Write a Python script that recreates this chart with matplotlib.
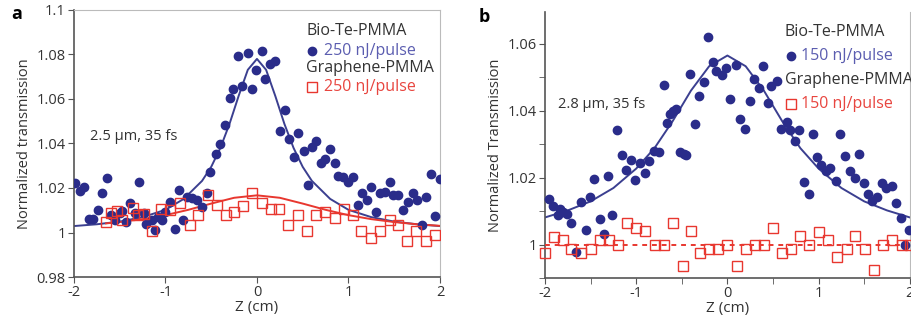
import numpy as np
import matplotlib.pyplot as plt

# ---- panel a data ----
a_bio_z = [-1.99, -1.93, -1.89, -1.84, -1.79, -1.74, -1.69, -1.64, -1.60, -1.55,
           -1.50, -1.47, -1.43, -1.39, -1.33, -1.29, -1.24, -1.21, -1.15, -1.11,
           -1.08, -1.04, -1.00, -0.95, -0.90, -0.85, -0.81, -0.76, -0.71, -0.66,
           -0.60, -0.55, -0.51, -0.45, -0.40, -0.35, -0.30, -0.26, -0.21, -0.16,
           -0.10, -0.05, -0.01, 0.05, 0.09, 0.14, 0.20, 0.25, 0.31, 0.35,
           0.40, 0.45, 0.51, 0.56, 0.60, 0.65, 0.70, 0.74, 0.80, 0.85,
           0.89, 0.94, 1.00, 1.05, 1.10, 1.15, 1.20, 1.25, 1.30, 1.34,
           1.40, 1.45, 1.49, 1.54, 1.60, 1.65, 1.71, 1.75, 1.80, 1.85,
           1.90, 1.95, 2.00]
a_bio_t = [1.0224, 1.0188, 1.0206, 1.0060, 1.0060, 1.0100, 1.0176, 1.0244, 1.0078, 1.0056,
           1.0086, 1.0098, 1.0048, 1.0134, 1.0086, 1.0229, 1.0086, 1.0040, 1.0056, 1.0010,
           1.0070, 1.0056, 1.0093, 1.0138, 1.0018, 1.0190, 1.0056, 1.0160, 1.0153, 1.0146,
           1.0116, 1.0176, 1.0274, 1.0353, 1.0398, 1.0484, 1.0605, 1.0645, 1.0795, 1.0660,
           1.0808, 1.0645, 1.0732, 1.0815, 1.0690, 1.0758, 1.0770, 1.0454, 1.0552, 1.0420,
           1.0338, 1.0447, 1.0367, 1.0214, 1.0382, 1.0409, 1.0311, 1.0329, 1.0374, 1.0314,
           1.0254, 1.0248, 1.0229, 1.0251, 1.0123, 1.0176, 1.0146, 1.0206, 1.0093, 1.0176,
           1.0183, 1.0229, 1.0168, 1.0168, 1.0100, 1.0138, 1.0179, 1.0146, 1.0033, 1.0160,
           1.0263, 1.0074, 1.0241]

a_gr_z = [-1.65, -1.59, -1.53, -1.48, -1.35, -1.30, -1.24, -1.15, -1.05, -0.95,
          -0.84, -0.73, -0.64, -0.54, -0.44, -0.34, -0.25, -0.15, -0.05, 0.05,
          0.15, 0.24, 0.34, 0.45, 0.55, 0.64, 0.74, 0.85, 0.95, 1.05,
          1.14, 1.25, 1.34, 1.45, 1.54, 1.64, 1.74, 1.85, 1.95]
a_gr_t = [1.0048, 1.0086, 1.0098, 1.0056, 1.0108, 1.0078, 1.0083, 1.0006, 1.0104, 1.0101,
          1.0134, 1.0033, 1.0078, 1.0168, 1.0123, 1.0078, 1.0093, 1.0119, 1.0176, 1.0134,
          1.0105, 1.0105, 1.0033, 1.0078, 1.0006, 1.0078, 1.0093, 1.0063, 1.0104, 1.0078,
          1.0006, 0.9977, 1.0006, 1.0056, 1.0033, 0.9962, 1.0006, 0.9962, 0.9991]

# fit curves
a_fit_z = [-2.0, -1.75, -1.5, -1.25, -1.0, -0.8, -0.6, -0.5, -0.4, -0.3, -0.2, -0.1, 0.0,
           0.1, 0.2, 0.3, 0.4, 0.5, 0.6, 0.8, 1.0, 1.25, 1.5, 1.75, 2.0]
a_bio_fit = [1.0029, 1.0037, 1.0049, 1.0069, 1.0102, 1.0151, 1.0232, 1.0295, 1.0380, 1.0488,
             1.0614, 1.0731, 1.0780, 1.0731, 1.0614, 1.0488, 1.0380, 1.0295, 1.0232, 1.0151,
             1.0102, 1.0069, 1.0049, 1.0037, 1.0029]
a_gr_fit_z = [-1.65, -1.5, -1.25, -1.0, -0.75, -0.5, -0.25, 0.0, 0.25, 0.5, 0.75,
              1.0, 1.25, 1.5, 1.75, 2.0]
a_gr_fit = [1.0041, 1.0047, 1.0060, 1.0078, 1.0102, 1.0130, 1.0156, 1.0167, 1.0156, 1.0130,
            1.0102, 1.0078, 1.0060, 1.0047, 1.0037, 1.0030]

# ---- panel b data ----
b_bio_z = [-1.96, -1.91, -1.86, -1.84, -1.80, -1.76, -1.71, -1.66, -1.61, -1.55,
           -1.51, -1.46, -1.40, -1.35, -1.31, -1.26, -1.21, -1.16, -1.11, -1.06,
           -1.01, -0.96, -0.90, -0.86, -0.81, -0.75, -0.70, -0.66, -0.63, -0.60,
           -0.56, -0.52, -0.48, -0.45, -0.41, -0.36, -0.31, -0.26, -0.21, -0.16,
           -0.12, -0.06, -0.02, 0.03, 0.09, 0.14, 0.19, 0.25, 0.29, 0.35,
           0.39, 0.45, 0.48, 0.54, 0.59, 0.65, 0.69, 0.74, 0.79, 0.84,
           0.89, 0.94, 0.98, 1.03, 1.08, 1.13, 1.19, 1.23, 1.29, 1.34,
           1.40, 1.44, 1.50, 1.54, 1.59, 1.64, 1.69, 1.74, 1.80, 1.85,
           1.90, 1.95, 1.99]
b_bio_t = [1.0137, 1.0115, 1.0087, 1.0105, 1.0097, 1.0090, 1.0065, 0.9978, 1.0127, 1.0043,
           1.0142, 1.0196, 1.0075, 1.0032, 1.0204, 1.0087, 1.0341, 1.0269, 1.0224, 1.0254,
           1.0194, 1.0244, 1.0214, 1.0249, 1.0279, 1.0276, 1.0478, 1.0364, 1.0389, 1.0399,
           1.0404, 1.0276, 1.0272, 1.0269, 1.0511, 1.0359, 1.0444, 1.0486, 1.0621, 1.0545,
           1.0518, 1.0508, 1.0528, 1.0434, 1.0538, 1.0374, 1.0344, 1.0429, 1.0496, 1.0469,
           1.0533, 1.0422, 1.0474, 1.0489, 1.0346, 1.0366, 1.0342, 1.0309, 1.0342, 1.0186,
           1.0150, 1.0329, 1.0261, 1.0239, 1.0219, 1.0229, 1.0191, 1.0331, 1.0266, 1.0219,
           1.0199, 1.0272, 1.0184, 1.0150, 1.0130, 1.0143, 1.0184, 1.0170, 1.0174, 1.0125,
           1.0080, 1.0000, 1.0043]

b_gr_z = [-2.00, -1.90, -1.80, -1.71, -1.60, -1.50, -1.40, -1.30, -1.20, -1.10,
          -1.00, -0.90, -0.79, -0.70, -0.60, -0.49, -0.40, -0.30, -0.20, -0.10,
          0.00, 0.10, 0.20, 0.30, 0.40, 0.50, 0.60, 0.70, 0.80, 0.90,
          1.00, 1.10, 1.20, 1.31, 1.40, 1.51, 1.61, 1.71, 1.81, 1.91, 2.00]
b_gr_t = [0.9975, 1.0023, 1.0013, 0.9987, 0.9975, 0.9987, 1.0013, 1.0013, 1.0000, 1.0063,
          1.0050, 1.0040, 1.0000, 1.0000, 1.0063, 0.9937, 1.0040, 0.9975, 0.9987, 0.9987,
          1.0000, 0.9937, 0.9987, 1.0000, 1.0000, 1.0050, 0.9975, 0.9987, 1.0025, 1.0000,
          1.0038, 1.0013, 0.9963, 0.9987, 1.0025, 0.9987, 0.9925, 1.0000, 1.0013, 1.0000, 1.0000]

b_fit_z = [-2.0, -1.75, -1.5, -1.25, -1.0, -0.8, -0.6, -0.4, -0.2, 0.0,
           0.2, 0.4, 0.6, 0.8, 1.0, 1.25, 1.5, 1.75, 2.0]
b_bio_fit = [1.0081, 1.0102, 1.0129, 1.0169, 1.0227, 1.0288, 1.0369, 1.0460, 1.0533, 1.0565,
             1.0533, 1.0460, 1.0369, 1.0288, 1.0227, 1.0169, 1.0129, 1.0102, 1.0081]
b_gr_line_z = [-2.0, 2.0]
b_gr_line = [1.0, 1.0]

navy = '#2a2c8a'
fitblue = '#3b3f90'
red = '#e8372f'
grey = '#555555'

plt.rcParams['font.family'] = ['Open Sans', 'DejaVu Sans']

fig = plt.figure(figsize=(9.12, 3.21), dpi=100)
ax1 = fig.add_axes([0.0811, 0.137, 0.4013, 0.832])
ax2 = fig.add_axes([0.5976, 0.134, 0.400, 0.8285])

# panel a
ax1.plot(a_fit_z, a_bio_fit, color=fitblue, lw=1.4, zorder=2)
ax1.plot(a_gr_fit_z, a_gr_fit, color=red, lw=1.4, zorder=3)
ax1.plot(a_bio_z, a_bio_t, 'o', color=navy, ms=6, mec=navy, zorder=4)
ax1.plot(a_gr_z, a_gr_t, 's', mfc='none', mec=red, ms=6.5, mew=1.0, zorder=5)
ax1.set_xlim(-2, 2)
ax1.set_ylim(0.98, 1.1)
ax1.set_xticks([-2, -1, 0, 1, 2])
ax1.set_xticklabels(['-2', '-1', '0', '1', '2'])
ax1.set_yticks([0.98, 1.0, 1.02, 1.04, 1.06, 1.08, 1.1])
ax1.set_yticklabels(['0.98', '1', '1.02', '1.04', '1.06', '1.08', '1.1'])
ax1.set_ylabel('Normalized transmission', fontsize=10.5, color='#333333', labelpad=3)
ax1.set_xlabel('Z (cm)', fontsize=11, color='#333333', labelpad=0)
for s in ['top', 'right']:
    ax1.spines[s].set_color('#bbbbbb')
for s in ['left', 'bottom']:
    ax1.spines[s].set_color(grey)
    ax1.spines[s].set_linewidth(1.2)
ax1.tick_params(direction='out', length=4, color=grey, labelsize=10.5, labelcolor='#333333', pad=2)
ax1.text(-1.82, 1.043, '2.5 μm, 35 fs', fontsize=10.5, color='#333333', va='center')
ax1.text(0.54, 1.0905, 'Bio-Te-PMMA', fontsize=11.5, color='#333333', va='center')
ax1.plot([0.6], [1.0817], 'o', color=navy, ms=6)
ax1.text(0.73, 1.0817, '250 nJ/pulse', fontsize=11.5, color='#5b5db0', va='center')
ax1.text(0.54, 1.0737, 'Graphene-PMMA', fontsize=11.5, color='#333333', va='center')
ax1.plot([0.6], [1.0655], 's', mfc='none', mec=red, ms=6.5, mew=1.0)
ax1.text(0.73, 1.0655, '250 nJ/pulse', fontsize=11.5, color='#e8453f', va='center')
fig.text(0.012, 0.955, 'a', fontsize=13, fontweight='bold', va='center')

# panel b
ax2.plot(b_fit_z, b_bio_fit, color=fitblue, lw=1.4, zorder=2)
ax2.plot(b_gr_line_z, b_gr_line, color=red, lw=1.4, ls=(0, (2.5, 2.5)), zorder=3)
ax2.plot(b_bio_z, b_bio_t, 'o', color=navy, ms=6, mec=navy, zorder=4, clip_on=False)
ax2.plot(b_gr_z, b_gr_t, 's', mfc='none', mec=red, ms=6.5, mew=1.0, zorder=5, clip_on=False)
ax2.set_xlim(-2, 2)
ax2.set_ylim(0.99, 1.0695)
ax2.set_xticks([-2, -1, 0, 1, 2])
ax2.set_xticklabels(['-2', '-1', '0', '1', '2'])
ax2.set_xticks(np.arange(-1.5, 2, 1.0), minor=True)
ax2.set_yticks([1.0, 1.02, 1.04, 1.06])
ax2.set_yticklabels(['1', '1.02', '1.04', '1.06'])
ax2.set_yticks([0.99, 1.01, 1.03, 1.05], minor=True)
ax2.set_ylabel('Normalized Transmission', fontsize=10.5, color='#333333', labelpad=3)
ax2.set_xlabel('Z (cm)', fontsize=11, color='#333333', labelpad=0)
ax2.spines['top'].set_visible(False)
ax2.spines['right'].set_color('#bbbbbb')
for s in ['left', 'bottom']:
    ax2.spines[s].set_color(grey)
    ax2.spines[s].set_linewidth(1.2)
ax2.tick_params(which='both', direction='out', color=grey, labelsize=10.5, labelcolor='#333333', pad=2)
ax2.tick_params(which='major', length=4)
ax2.tick_params(which='minor', length=4)
ax2.text(-1.86, 1.042, '2.8 μm, 35 fs', fontsize=10.5, color='#333333', va='center')
ax2.text(0.63, 1.0635, 'Bio-Te-PMMA', fontsize=11.5, color='#333333', va='center')
ax2.plot([0.7], [1.0565], 'o', color=navy, ms=6)
ax2.text(0.81, 1.0565, '150 nJ/pulse', fontsize=11.5, color='#5b5db0', va='center')
ax2.text(0.63, 1.0493, 'Graphene-PMMA', fontsize=11.5, color='#333333', va='center')
ax2.plot([0.7], [1.042], 's', mfc='none', mec=red, ms=6.5, mew=1.0)
ax2.text(0.81, 1.042, '150 nJ/pulse', fontsize=11.5, color='#e8453f', va='center')
fig.text(0.525, 0.948, 'b', fontsize=13, fontweight='bold', va='center')

fig.savefig('out.png', dpi=100)
